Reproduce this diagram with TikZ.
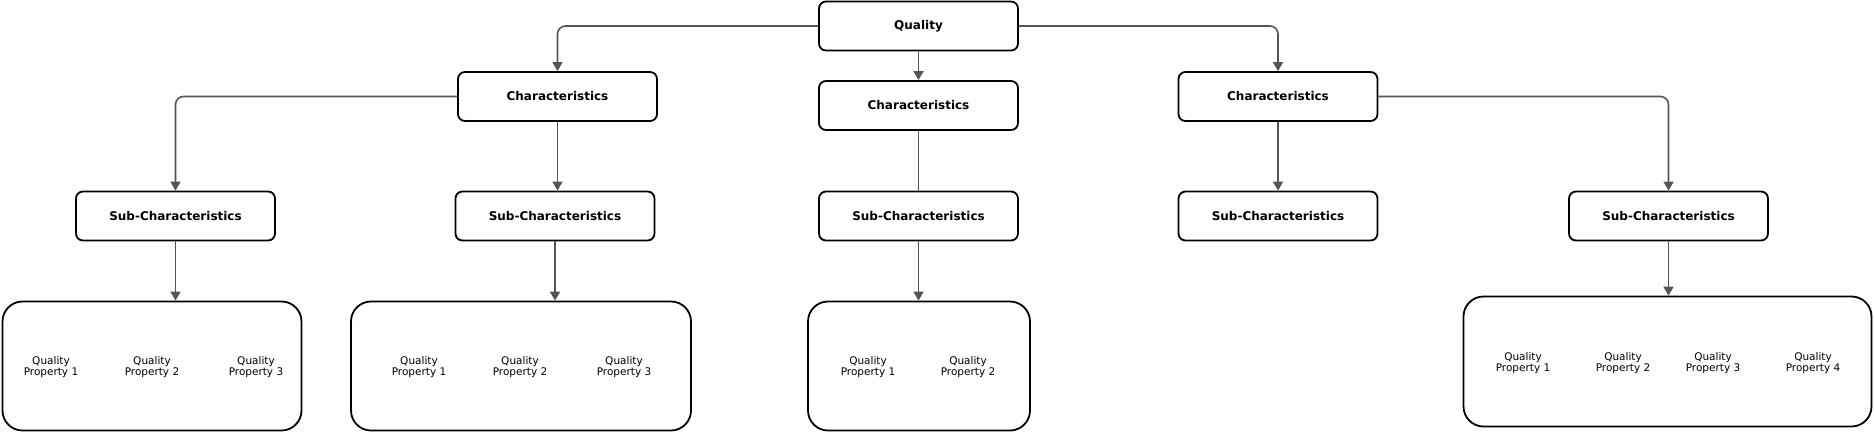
\documentclass[tikz,border=0pt]{standalone}
\usepackage{fontspec}
\setmainfont{DejaVu Sans}
\usetikzlibrary{arrows.meta, positioning, shapes}
\definecolor{linegray}{RGB}{85,85,85}
\tikzstyle{arrow} = [draw=linegray, line width=1.6pt, -{Triangle[width=10pt,length=9pt]}, rounded corners=8pt]
\tikzstyle{plainline} = [draw=linegray, line width=1.6pt]
\tikzset{
  charbox/.style={draw=black, line width=1.8pt, rounded corners=7pt, minimum width=199pt, minimum height=49pt,
    inner sep=0pt, font=\fontsize{12}{14}\selectfont\bfseries},
  propbox/.style={draw=black, line width=1.8pt, rounded corners=20pt, inner sep=0pt, minimum height=129pt},
  prop/.style={align=center, inner sep=0pt, font=\fontsize{10.5}{11.7}\selectfont},
}

\begin{document}
\begin{tikzpicture}[x=1pt, y=-1pt]
        \useasboundingbox (0,0) rectangle (1874,432);

        % top level
        \node[charbox] (quality) at (918.5,26) {Quality};

        % characteristics
        \node[charbox] (charA) at (557.5,96.5) {Characteristics};
        \node[charbox] (charB) at (918.5,105.5) {Characteristics};
        \node[charbox] (charC) at (1278,96.5) {Characteristics};

        % sub-characteristics
        \node[charbox] (subA) at (175.5,216) {Sub-Characteristics};
        \node[charbox] (subB) at (555,216) {Sub-Characteristics};
        \node[charbox] (subC) at (918.5,216) {Sub-Characteristics};
        \node[charbox] (subD) at (1278,216) {Sub-Characteristics};
        \node[charbox] (subE) at (1668.5,216) {Sub-Characteristics};

        % quality properties
        \node[propbox, minimum width=299pt] (propsA) at (152,366) {};
        \node[propbox, minimum width=340pt] (propsB) at (521,366) {};
        \node[propbox, minimum width=222pt] (propsC) at (919,366) {};
        \node[propbox, minimum width=408pt, minimum height=130pt] (propsE) at (1667.5,361.5) {};

        \node[prop] (pA1) at (51,367) {Quality\\Property 1};
        \node[prop] (pA2) at (152,367) {Quality\\Property 2};
        \node[prop] (pA3) at (256,367) {Quality\\Property 3};

        \node[prop] (pB1) at (419,367) {Quality\\Property 1};
        \node[prop] (pB2) at (520,367) {Quality\\Property 2};
        \node[prop] (pB3) at (624,367) {Quality\\Property 3};

        \node[prop] (pC1) at (868,367) {Quality\\Property 1};
        \node[prop] (pC2) at (968,367) {Quality\\Property 2};

        \node[prop] (pE1) at (1523,363) {Quality\\Property 1};
        \node[prop] (pE2) at (1623,363) {Quality\\Property 2};
        \node[prop] (pE3) at (1713,363) {Quality\\Property 3};
        \node[prop] (pE4) at (1813,363) {Quality\\Property 4};

        % connectors
        \draw[arrow] (quality.west) -| (charA.north);
        \draw[arrow] (quality.south) -- (charB.north);
        \draw[arrow] (quality.east) -| (charC.north);

        \draw[arrow] (charA.west) -| (subA.north);
        \draw[arrow] (charA.south) -- (charA.south |- subB.north);
        \draw[plainline] (charB.south) -- (subC.north);
        \draw[arrow] (charC.south) -- (subD.north);
        \draw[arrow] (charC.east) -| (subE.north);

        \draw[arrow] (subA.south) -- (subA.south |- propsA.north);
        \draw[arrow] (subB.south) -- (subB.south |- propsB.north);
        \draw[arrow] (subC.south) -- (subC.south |- propsC.north);
        \draw[arrow] (subE.south) -- (subE.south |- propsE.north);
\end{tikzpicture}
\end{document}
